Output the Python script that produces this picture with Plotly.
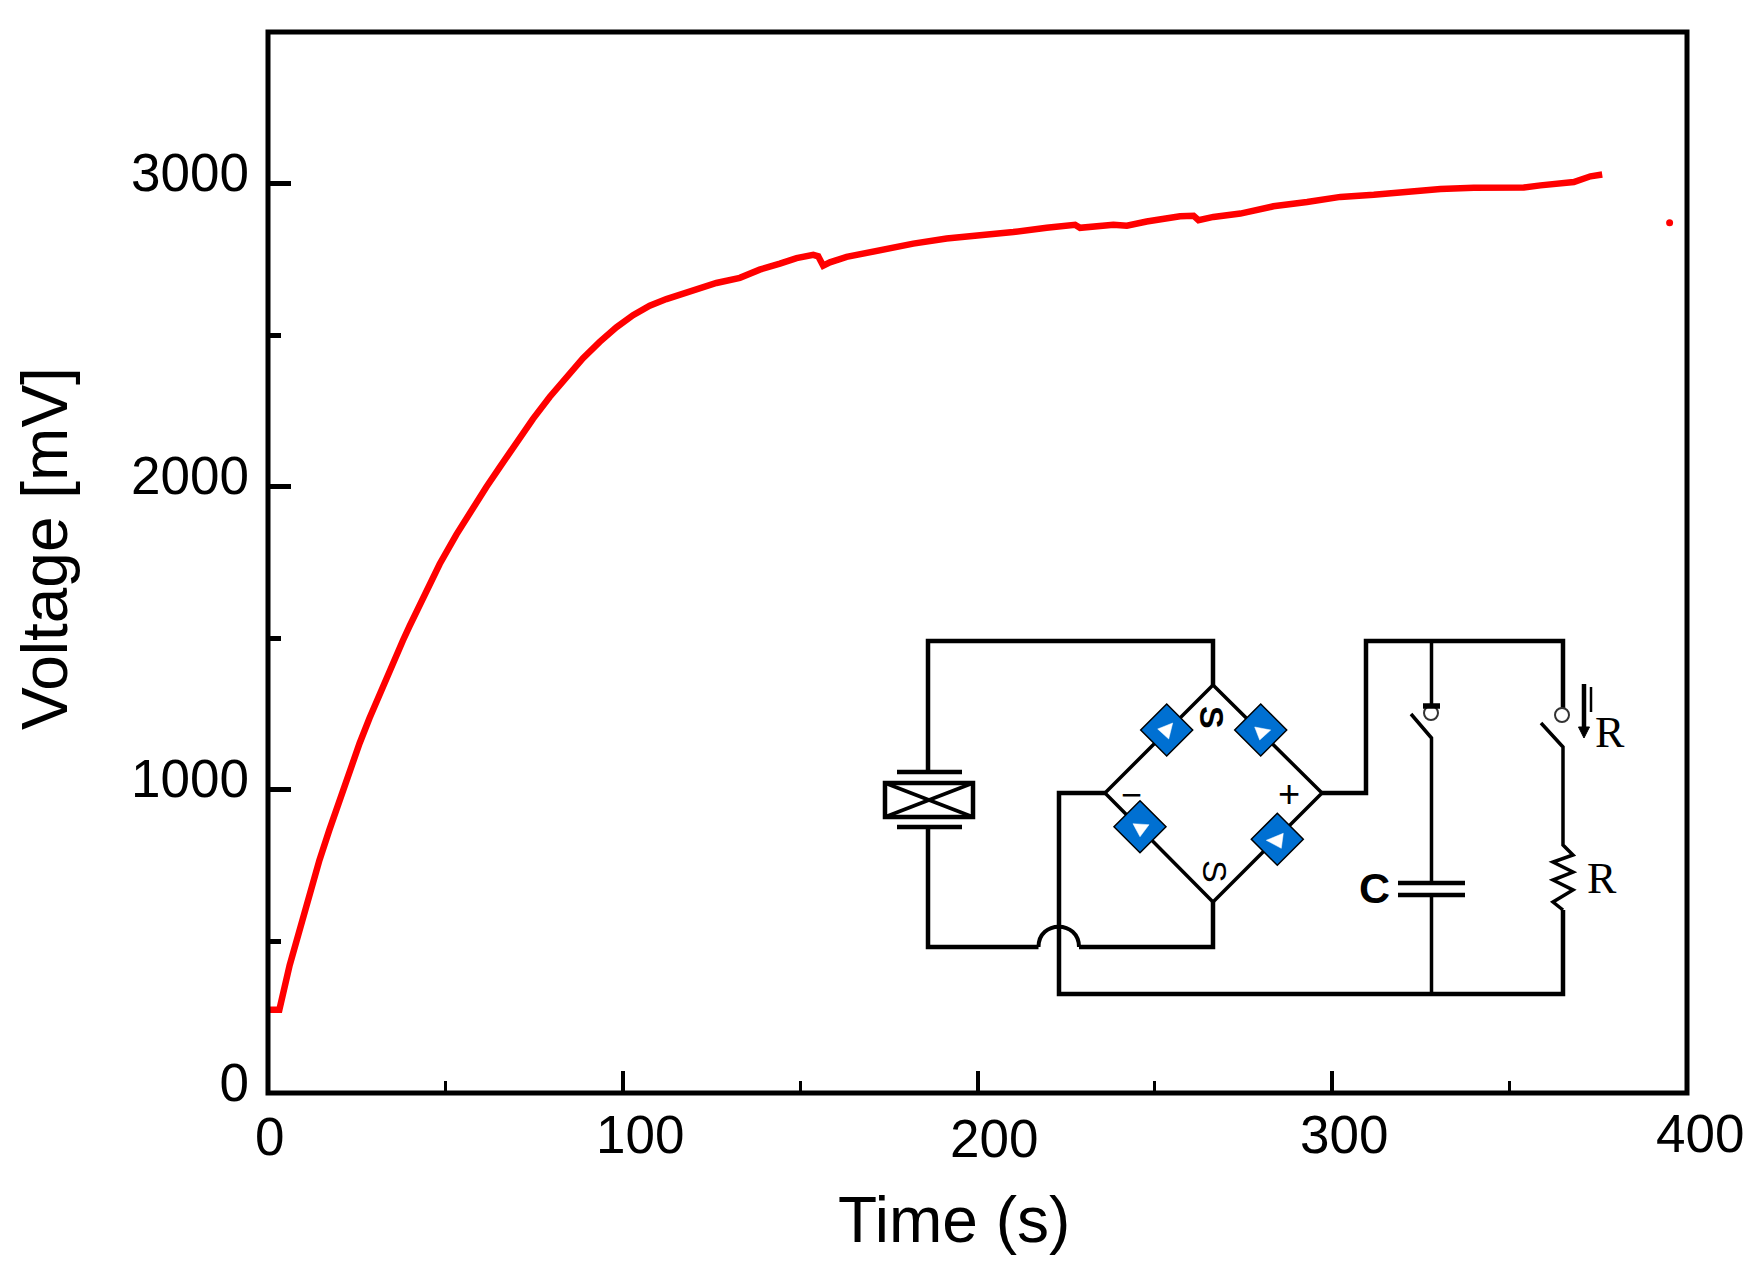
import plotly.graph_objects as go

# curve
time_s = [0.3, 3.2, 6.1, 8.9, 11.7, 14.5, 17.3, 20.2, 23.0, 25.8, 28.6, 31.5, 34.3, 38.0, 39.9, 43.7,
          48.4, 53.1, 57.8, 61.6, 65.3, 70.0, 74.7, 79.4, 84.1, 88.8, 93.5, 98.2, 102.9, 107.6, 112.3,
          117.0, 121.7, 126.4, 133.0, 138.6, 144.3, 149.0, 153.7, 155.1, 156.5, 158.4, 163.1, 172.5,
          181.9, 191.3, 200.7, 210.1, 219.5, 227.5, 228.9, 238.3, 242.1, 247.7, 257.1, 260.9, 262.3,
          266.5, 274.1, 283.4, 292.9, 302.3, 311.7, 321.1, 330.5, 339.9, 354.0, 358.7, 368.1, 372.8, 376.1]
voltage_mv = [275, 275, 421, 542, 658, 768, 868, 970, 1064, 1153, 1236, 1318, 1396, 1492, 1540, 1636,
              1745, 1842, 1932, 2000, 2064, 2146, 2224, 2296, 2360, 2424, 2478, 2526, 2566, 2597, 2619,
              2638, 2656, 2672, 2689, 2716, 2736, 2754, 2765, 2760, 2729, 2740, 2758, 2782,
              2802, 2819, 2828, 2840, 2854, 2864, 2854, 2864, 2861, 2875, 2892, 2894, 2879,
              2890, 2901, 2925, 2939, 2956, 2963, 2974, 2982, 2986, 2987, 2994, 3005, 3024, 3030]

# lone point right of the curve
dot_time = [395.1]
dot_voltage = [2871]

x_ticks = [0, 100, 200, 300, 400]
y_ticks = [0, 1000, 2000, 3000]

# scanned figure: x labels are not quite on their ticks
x_label_dx = [1.5, 17, 16.5, 12, 12.5]
x_label_py = [1136, 1134, 1138, 1134, 1133]

WIDTH, HEIGHT = 1764, 1277
LEFT, RIGHT, TOP, BOTTOM = 268, 1687, 32, 1093
SANS = "Liberation Sans"
SERIF = "Liberation Serif"
BLUE = "#0070d2"


def fx(px):
    return (px - LEFT) / (RIGHT - LEFT)


def fy(py):
    return (BOTTOM - py) / (BOTTOM - TOP)


def wire(points, width=3.5, closed=False, fill=None, color="black"):
    path = "M " + " L ".join(f"{fx(x):.5f},{fy(y):.5f}" for x, y in points)
    if closed:
        path += " Z"
    shape = dict(type="path", path=path, xref="paper", yref="paper", line=dict(color=color, width=width))
    if fill:
        shape["fillcolor"] = fill
    return shape


def circle(cx, cy, r, width=2):
    return dict(type="circle", xref="paper", yref="paper", x0=fx(cx - r), x1=fx(cx + r),
                y0=fy(cy + r), y1=fy(cy - r), line=dict(color="#333333", width=width), fillcolor="white")


def label(text, px, py, size, font=SANS, bold=False, angle=0):
    if bold:
        text = f"<b>{text}</b>"
    return dict(text=text, x=fx(px), y=fy(py), xref="paper", yref="paper", showarrow=False,
                xanchor="center", yanchor="middle", textangle=angle,
                font=dict(family=font, size=size, color="black"))


fig = go.Figure()
fig.add_trace(go.Scatter(x=time_s, y=voltage_mv, mode="lines", line=dict(color="#ff0000", width=6.5)))
fig.add_trace(go.Scatter(x=dot_time, y=dot_voltage, mode="markers", marker=dict(color="#ff0000", size=7)))

# circuit inset
shapes = [
    # crystal and its leads
    wire([(1213, 685), (1213, 641), (928, 641), (928, 772)], 4.5),
    wire([(897, 772), (962, 772)], 4.5),
    wire([(897, 827), (962, 827)], 4.5),
    wire([(885, 783), (973, 783), (973, 817), (885, 817)], 4.5, closed=True),
    wire([(885, 783), (973, 817)]),
    wire([(885, 817), (973, 783)]),
    wire([(928, 827), (928, 947), (1038.5, 947)], 4.5),
    dict(type="path", xref="paper", yref="paper", line=dict(color="black", width=4),
         path=f"M {fx(1038.5):.5f},{fy(947):.5f} C {fx(1038.5):.5f},{fy(920):.5f} "
              f"{fx(1079):.5f},{fy(920):.5f} {fx(1079):.5f},{fy(947):.5f}"),
    wire([(1079, 947), (1213, 947), (1213, 902)], 4.5),
    # bridge
    wire([(1213, 685), (1105, 793), (1213, 902), (1322, 793)], 3.5, closed=True),
    # return and output wires
    wire([(1105, 793), (1059, 793), (1059, 994), (1563, 994), (1563, 910)], 4.5),
    wire([(1322, 793), (1366, 793), (1366, 641), (1563, 641), (1563, 708)], 4.5),
    circle(1431, 713, 7),
    circle(1562, 715, 7),
    # capacitor branch
    wire([(1431.5, 641), (1431.5, 706)]),
    wire([(1423, 706), (1440, 706)], 5.5),
    wire([(1411, 714), (1431.5, 738), (1431.5, 883)]),
    wire([(1398, 883), (1465, 883)], 4.5),
    wire([(1398, 895), (1465, 895)], 4.5),
    wire([(1431.5, 895), (1431.5, 994)]),
    # resistor branch
    wire([(1541, 723), (1563, 747), (1563, 845), (1573, 855), (1553, 862), (1573, 872),
          (1553, 880), (1573, 890), (1553, 902), (1563, 910)]),
    # arrow next to the resistor branch
    wire([(1584, 684), (1584, 728)], 4.5),
    wire([(1578.5, 727), (1589.5, 727), (1584, 738)], 1, closed=True, fill="black"),
    wire([(1591, 687), (1591, 712)], 2.5),
]

# diode blocks: centre, then white triangle corners around that centre
blocks = [
    ((1166.7, 730), [(-9, -1), (6, -7), (2, 9)]),
    ((1260.7, 730), [(-6, -3), (10, 0), (-1, 10)]),
    ((1140, 826.7), [(-7, -3), (9, -2), (0, 10)]),
    ((1277.3, 839.3), [(-11, 1), (6, -6), (4, 9)]),
]
for (cx, cy), tri in blocks:
    shapes.append(wire([(cx, cy - 26), (cx + 26, cy), (cx, cy + 26), (cx - 26, cy)], 1.5, closed=True, fill=BLUE))
    shapes.append(wire([(cx + dx, cy + dy) for dx, dy in tri], 0.5, closed=True, fill="white", color="white"))

# plot frame
shapes.append(dict(type="rect", xref="paper", yref="paper", x0=0, x1=1, y0=0, y1=1,
                   line=dict(color="black", width=5)))

annotations = [
    label("Time (s)", 954, 1220, 64),
    label("Voltage [mV]", 45, 549, 64, angle=-90),
    label("S", 1212, 717, 34, bold=True, angle=90),
    label("S", 1215, 871, 34, angle=90),
    label("−", 1131, 794, 36),
    label("+", 1289, 794, 38),
    label("C", 1374, 888, 43, bold=True),
    label("R", 1610, 732, 44, font=SERIF),
    label("R", 1602, 878, 44, font=SERIF),
]
for val, dx, py in zip(x_ticks, x_label_dx, x_label_py):
    annotations.append(dict(text=str(val), x=val, xref="x", xshift=dx, y=fy(py), yref="paper", showarrow=False,
                            xanchor="center", yanchor="middle", font=dict(family=SANS, size=53, color="black")))

fig.update_layout(
    width=WIDTH, height=HEIGHT,
    margin=dict(l=LEFT, r=WIDTH - RIGHT, t=TOP, b=HEIGHT - BOTTOM, autoexpand=False),
    paper_bgcolor="white", plot_bgcolor="white",
    showlegend=False,
    font=dict(family=SANS, color="black"),
    shapes=shapes,
    annotations=annotations,
)
fig.update_xaxes(
    range=[0, 400], tickvals=x_ticks, showticklabels=False, showgrid=False, zeroline=False, showline=False,
    ticks="inside", ticklen=22, tickwidth=3.5, tickcolor="black",
    minor=dict(ticks="inside", tickvals=[50, 150, 250, 350], ticklen=12, tickwidth=3, tickcolor="black", showgrid=False),
)
fig.update_yaxes(
    range=[0, 3500], tickvals=y_ticks, ticktext=[str(v) for v in y_ticks], showgrid=False, zeroline=False, showline=False,
    ticks="inside", ticklen=22.5, tickwidth=4.5, tickcolor="black",
    tickfont=dict(family=SANS, size=53, color="black"),
    ticklabelshift=-11, ticklabelstandoff=18,
    minor=dict(ticks="inside", tickvals=[500, 1500, 2500, 3500], ticklen=12.5, tickwidth=4.5, tickcolor="black", showgrid=False),
)

# the browser's default body margin would push the figure off by 8 px
fig.write_html("out.html", config=dict(displayModeBar=False), post_script="document.body.style.margin='0';")
